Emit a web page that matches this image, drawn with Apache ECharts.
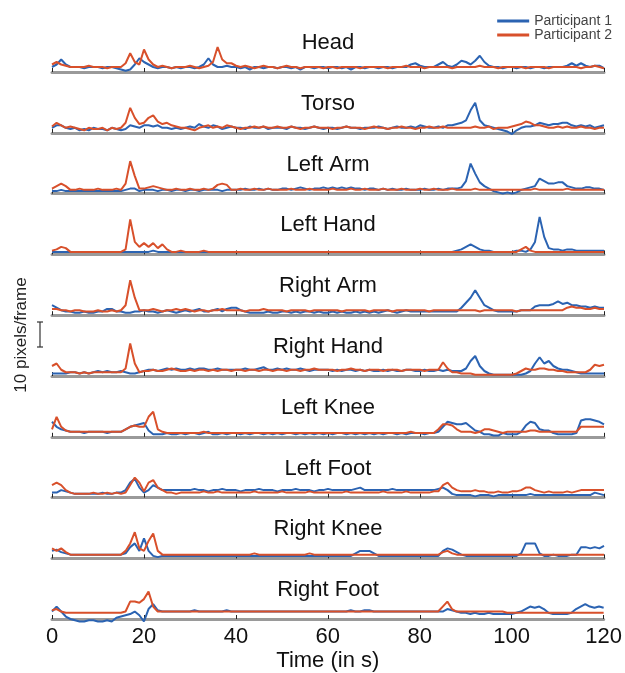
<!DOCTYPE html>
<html>
<head>
<meta charset="utf-8">
<script src="https://cdn.jsdelivr.net/npm/echarts@6/dist/echarts.min.js"></script>
<style>
  html, body { margin: 0; padding: 0; background: #fff; }
  #chart { width: 625px; height: 673px; }
</style>
</head>
<body>
<div id="chart"></div>
<script>
// time in seconds, one sample per second
const times = []
for (let i = 0; i <= 120; i++) times.push(i)
const xTicks = [0, 20, 40, 60, 80, 100, 120]
const panelNames = ['Head', 'Torso', 'Left Arm', 'Left Hand', 'Right Arm', 'Right Hand', 'Left Knee', 'Left Foot', 'Right Knee', 'Right Foot']
const seriesNames = ['Participant 1', 'Participant 2']

// speed in pixels/frame
const headP1 = [2,3,5,3,2,2,2,1.5,2,2, 2,1.5,2,2,1.5,1,0.5,1,3,5.5, 4,3,2,1.5,2,2,1.5,2,1.5,2, 2,1.5,2,3,5.5,3,2,2,2.5,2,
  2,1.5,2,1,2,2,1.5,2,2,1.5, 2,2,1.5,2,1,2,2,1.5,2,2, 1.5,2,2,1.5,2,1,2,2,1.5,2, 2,1.5,2,2,1.5,2,2,2,3,3.5,
  2.5,2,2,2,3,4,2.5,2,3,4.5, 4,3,4.5,6.5,4,2.5,2,2,1.5,2, 2,1.5,2,2,1.5,2,2,1.5,2,2, 2,2,2.5,3.5,2.5,3.5,2.5,2,2.5,2.5, 1.5]
const headP2 = [3,4,3,2.5,2,2,2,2,2.5,2, 2,2,1.5,2,2,2,3.5,7.5,4,3, 9,5,3,2,2.5,2,1.5,2,2,2, 2.5,2,1.5,2,2.5,4,10,5,3.5,3.5,
  2.5,2,2.5,2,1.5,2,2.5,2,2,1.5, 2,2.5,2,2,1.5,2,2,2,2,1.5, 2,2,1.5,2,2,2,2,1.5,2,2, 2,2,2,1.5,2,2,2,2.5,2,2,
  2,1.5,2,2,2,2,2,1.5,2,2, 2,2,2,2.5,2,2,2,1.5,2,2, 2,2,2,1.5,2,2,2,2,1.5,2, 2,2,2,2,2,1.5,2,2,2.5,2, 1.5]
const torsoP1 = [2,3,3,2,1.5,2,1,1.5,1,2, 1.5,1.5,1,2,1.5,1,1.5,3,2.5,2, 3,3,2.5,3,2,2,1.5,2,1.5,2, 2.5,2,3.5,2.5,2,3,2.5,1.5,2,2.5,
  2,2,1.5,2.5,2,2,2.5,1.5,2,2, 2,1.5,2.5,2,2,1.5,2,2.5,2,1.5, 2,2,1.5,2,2.5,2,2,1.5,2,2, 2,2.5,2,1.5,2,2.5,2,2,2.5,2,
  3,2.5,2,2,2.5,2,3,3,3.5,4, 5,9,12,5,3,2.5,2,1.5,1,0.5, -0.5,1,2,2.5,2.5,3,4,3.5,3,3.5, 3.5,4,4,3,2.5,3,2.5,3,2,2.5, 3]
const torsoP2 = [2.5,4,3,2,2.5,2,1.5,1,2,1.5, 1.5,2,1,2,1.5,2,4,10,6,3.5, 4,6,7,4.5,3.5,4,3,2.5,2,2, 1.5,1,2,2.5,3,2,2.5,2,3,2.5,
  2,1.5,2,2,2.5,2,2.5,2,2,2.5, 2,2,2.5,2,1.5,2,2,2.5,2,2, 2,1.5,2,2,2.5,2,2,2,1.5,2, 2.5,2,2,1.5,2,2,2.5,2,2,1.5,
  2,2,2.5,2,2,2.5,2,2,2,2, 2,2,2.5,2,2,2.5,1.5,2,2,2, 2.5,3,3.5,4.5,4,3,3,2.5,2,2, 2.5,2,2.5,2,2,2.5,2,2,1.5,2, 2]
const leftArmP1 = [1,1,1.5,1,1,1,1,1,1,1, 1,1,1,1,1,1,1.5,2,2,1, 1.5,1.5,1.5,1,1.5,1.5,1,1.5,1.5,1, 1.5,1.5,1,1.5,1.5,1.5,1.5,1,1.5,1.5,
  1.5,1.5,2,1.5,1.5,2,1.5,2,1.5,1.5, 2,2,1.5,2,2.5,2,1.5,2,2,2.5, 2,2.5,2,2.5,2,2.5,2,2,1.5,2, 2,1.5,2,1.5,2,1.5,1.5,2,1.5,1.5,
  1.5,2,1.5,1.5,2,1.5,2,2,2,2.5, 5,12,8,4.5,3,2,1,0.5,0,0.5, 0,0.5,1.5,2,2.5,3,6,5,4,4, 4.5,4.5,3,2.5,2,2,2.5,2.5,2,2, 1.5]
const leftArmP2 = [2,3,4,3,1.5,1.5,2,1.5,1.5,1.5, 2,1.5,1.5,1.5,2,1.5,4,13,7,2, 2,2.5,3,2.5,2,1.5,1.5,2,1.5,1.5, 2,1.5,1.5,2,1.5,2,3.5,4,3.5,1.5,
  1.5,2,1.5,1.5,2,1.5,1.5,2,1.5,1.5, 1.5,1.5,2,1.5,1.5,1.5,2,1.5,1.5,1.5, 1.5,2,1.5,1.5,1.5,2,1.5,1.5,2,1.5, 1.5,1.5,2,1.5,1.5,1.5,2,1.5,1.5,1.5,
  2,1.5,1.5,2,1.5,1.5,1.5,2,1.5,1.5, 1.5,1.5,2,1.5,1.5,1.5,1.5,1.5,1.5,1.5, 1.5,1.5,1.5,1.5,1.5,2,1.5,1.5,1.5,1.5, 1.5,1.5,2,1.5,1.5,1.5,1.5,1.5,1.5,1.5, 1.5]
const leftHandP1 = [1,1,1,1,1,1,1,1,1,1, 1,1,1,1,1,1,1,1,1,1, 1,1,1.5,1,1,1,1,1,1,1, 1,1,1,1,1,1,1,1,1,1,
  1,1,1,1,1,1,1,1,1,1, 1,1,1,1,1,1,1,1,1,1, 1,1,1,1,1,1,1,1,1,1, 1,1,1,1,1,1,1,1,1,1,
  1,1,1,1,1,1,1,1,1.5,2, 3,4,3,2,1.5,1.5,1,1,1,1, 1,1.5,1.5,1,2,5,15,7,2.5,2, 2,1.5,2,2,1.5,1.5,1.5,1.5,1.5,1.5, 1.5]
const leftHandP2 = [1.5,2,3,2.5,1,1,1,1,1,1, 1,1,1,1,1,1,2,14,5,3, 4.5,3,4.5,2.5,4,2,1,1,1.5,1, 1,1,1,1.5,1,1,1,1,1,1,
  1,1,1,1,1,1,1,1,1,1, 1,1,1,1,1,1,1,1,1,1, 1,1,1,1,1,1,1,1,1,1, 1,1,1,1,1,1,1,1,1,1,
  1,1,1,1,1,1,1,1,1,1, 1,1,1,1,1,1,1,1,1,1, 1,1,2,3,1.5,1,1,1,1,1, 1,1,1,1,1,1,1,1,1,1, 1]
const rightArmP1 = [4,3,2,1.5,1.5,1,1,1.5,1,1, 1.5,1.5,2.5,2.5,1.5,1.5,1,1,1.5,1.5, 2,1.5,1.5,1,1.5,2,1.5,1,1.5,2, 1.5,2,2.5,1.5,1.5,2,2.5,1.5,2.5,3,
  3,2,1.5,1,1,1,1,1.5,1,1, 1.5,1.5,1,1.5,1,1.5,1.5,1,1.5,1, 1,1.5,1,1.5,1,1,1.5,1,1.5,1, 1.5,1,1.5,2,1.5,1,1.5,2,1.5,1.5,
  1.5,1.5,1.5,1.5,1.5,1.5,1.5,1.5,1.5,3, 5,7,10,7,4,3,2,1.5,1.5,1.5, 1.5,1.5,2,2,2,3.5,4,4,4,4.5, 5.5,4.5,5,4,4,3.5,3.5,3,3.5,3, 3]
const rightArmP2 = [2.5,2.5,2,2,1.5,2,2,1.5,1.5,1.5, 2,1.5,1.5,2,1.5,2,4,14,7,2, 2,2,2.5,2,1.5,2,2,2.5,2,2.5, 2,1.5,2,2,1.5,2,2,2.5,2,2,
  2,2,1.5,2,2,2,2.5,2,2,2, 2,1.5,2,2,2,2,1.5,2,2,2, 2,2,2,1.5,2,2,2,2,2,1.5, 2,2,2,2,1.5,2,2,2,2,2,
  2,2,1.5,2,2,2,2,2,2,2, 2,2,2,1.5,2,2,2,2,2,2, 2,1.5,2,2,2,2,2,2,2,2, 2,2,3,3.5,3,3,2.5,2.5,3,2.5, 2.5]
const rightHandP1 = [1,1,1,1,1.5,1.5,1,1.5,1,1.5, 2,1.5,2,1.5,1.5,2,1.5,1,1,1.5, 2,2.5,2.5,2,2.5,3,2.5,3,2.5,2.5, 3,2.5,3,3,2.5,2.5,3,2.5,2.5,2.5,
  2.5,2.5,3,2.5,2.5,3,3.5,2.5,2.5,3, 2.5,3,2.5,2.5,3,2.5,2,2.5,2.5,2.5, 2.5,2,2.5,2,2.5,2.5,2,2.5,2,2.5, 2,2,2.5,2,2.5,2,2,2.5,2.5,2,
  2,2.5,2,2,2.5,2,2.5,2,2,2, 3,6,8,4,2,1,0.5,0.5,0.5,0.5, 0.5,0.5,0.5,1,2,5,7.5,5,6,4, 3,2.5,2.5,2,1.5,1,1,1,1,1, 1]
const rightHandP2 = [4,5,2.5,1.5,1.5,1.5,1,1.5,1,1.5, 1.5,1.5,1.5,1.5,1.5,1.5,3,13,5,1.5, 2,2,2.5,2,2,2.5,3,2.5,2,2, 2.5,2,2.5,2.5,2,2.5,2,2.5,2.5,2,
  2.5,2.5,2,2.5,2.5,2,2.5,2.5,2,2.5, 2.5,2,2.5,2.5,2,2.5,2.5,3,2.5,2.5, 2.5,2.5,2,2.5,2.5,3,2.5,2.5,2,2.5, 2.5,2.5,2,2.5,2.5,2.5,2,2.5,2.5,2.5,
  2.5,2,2.5,2.5,2.5,5.5,3,1.5,1.5,1, 1,1,0.5,0.5,0.5,0.5,0.5,0.5,0.5,0.5, 0.5,1,2,3,2.5,2.5,3,3,2.5,2.5, 2,2,1.5,1.5,1.5,1.5,1.5,2.5,4.5,4, 4.5]
const leftKneeP1 = [6,4,3,2.5,2,2,2,1.5,2,2, 2,2,1.5,2,2,2,3,4,4.5,5, 5.5,2.5,1,1,1,1.5,1,1,1.5,1, 1.5,1.5,1,1.5,2,1,1,1.5,1,1.5,
  1.5,1,1.5,1,1.5,1.5,1,1.5,1,1.5, 1,1.5,1.5,1,1.5,1,1.5,1,1.5,1, 1.5,1,1.5,1.5,1,1.5,1,1.5,1,1.5, 1,1.5,1,1.5,1.5,1,1.5,1,1.5,1.5,
  1.5,1,1.5,1.5,2,4,6,5.5,5,5, 5.5,4,2.5,2,1,1,0.5,0.5,1.5,1, 1,1,2,4.5,6,5.5,3,2.5,2.5,1.5, 1,1,1,1,1.5,6.5,7,7,6.5,6, 5]
const leftKneeP2 = [3,8,4,2.5,2,2,2,2,2,2, 2,2,2,2,2,2,3,4,4.5,4, 4,8,10,3,2,1.5,1.5,1.5,1.5,1.5, 1.5,1.5,1.5,2,1.5,1.5,1.5,1.5,1.5,1.5,
  1.5,1.5,1.5,1.5,1.5,1.5,1.5,1.5,1.5,1.5, 1.5,1.5,1.5,1.5,1.5,1.5,1.5,1.5,1.5,1.5, 1.5,1.5,1.5,1.5,1.5,1.5,1.5,1.5,1.5,1.5, 1.5,1.5,1.5,1.5,1.5,1.5,1.5,1.5,2,1.5,
  1.5,1.5,1.5,1.5,3,5,5,4.5,3,2, 2,2,1.5,2,3,3,2.5,2,1.5,2, 2,2,2,2,2.5,2.5,2,2,2,2, 2,2,2,2,2,4,4,4,4,4, 4]
const leftFootP1 = [2,2,3,2.5,2,1.5,1.5,1.5,1.5,1.5, 1.5,2,1.5,1.5,2,2,3,6,7.5,4, 2,3,5,4,3,3,3,3,3,3, 3,3.5,3,3,2.5,3,3,3.5,3,3,
  3,2.5,3,3,3,3.5,3,3,3,2.5, 3,3,3,3.5,3,3,3,2.5,3,3, 3.5,3,3,3,3,3,3.5,4,3,3, 3,3,3,3,3.5,3,3,3,3,3,
  3,3,3,3,3.5,4,3,1.5,1,1, 1,1,0.5,1,1,1,0.5,1,1,1, 1,1,1,1,1.5,1,1,1,1,1, 1,1,1,1,1,1,1,1,2,1.5, 1]
const leftFootP2 = [5,6,5,3,2,1.5,1.5,1.5,1.5,2, 1.5,1.5,2,1.5,2,1.5,2,5,8,6, 2.5,6,7,4,3,2,2,1.5,2,2, 2,2,2,2.5,2,2,2.5,2,2,2,
  2,2,2,2,2.5,2,2,2,2,2, 2.5,2,2,2,2,2,2.5,2,2,2, 2,2,2,2,2.5,2,2,2,2,2, 2,2,2.5,2,2,2,2,2.5,2,2,
  2,2,2,2.5,2.5,5,6,4,3,2.5, 2.5,2.5,3,2.5,2.5,2,2,2.5,2,2, 2.5,2.5,3,4,4,3,2.5,2,2.5,2, 2,2,2.5,2,2.5,3,3,3,3,3, 3]
const rightKneeP1 = [3,3.5,2.5,2,1.5,1.5,1.5,1.5,1.5,1.5, 1.5,1.5,1.5,1.5,1.5,1.5,2,4.5,6,3, 8,3,1,0.5,1,1,1,1,1,1, 1,1,1,1,1,1,1,1,1,1,
  1,1,1,1,1,1,1,1,1,1, 1,1,1,1,1,1,1,1,1,1, 1,1,1,1,1,1,2,3,3,3, 2,1,1,1,1,1,1,1,1,1,
  1,1,1,1,1,3,4,3.5,2.5,1.5, 1,1,1,1,1,1,1,1,1,1, 1,1,2,6,6,6,2,1,1,1.5, 1,1,1,1.5,1.5,4.5,4.5,4,4.5,4, 5]
const rightKneeP2 = [4,3,4,2.5,1.5,1.5,1.5,1.5,1.5,1.5, 1.5,1.5,1.5,1.5,1.5,1.5,3,6,10.5,4, 3,7,10,3,1.5,1.5,1.5,1.5,1.5,1.5, 1.5,1.5,1.5,1.5,1.5,1.5,1.5,1.5,1.5,1.5,
  1.5,1.5,1.5,1.5,2,1.5,1.5,1.5,1.5,1.5, 1.5,1.5,1.5,1.5,1.5,1.5,2,1.5,1.5,1.5, 1.5,1.5,1.5,1.5,1.5,1.5,1.5,1.5,1.5,1.5, 1.5,1.5,1.5,1.5,1.5,1.5,1.5,1.5,1.5,1.5,
  1.5,1.5,1.5,1.5,1.5,2.5,3,2,1.5,1.5, 1.5,1.5,1.5,1.5,1.5,1.5,1.5,1.5,1.5,1.5, 1.5,1.5,1.5,1.5,1.5,1.5,1.5,1.5,1.5,1.5, 1.5,1.5,1.5,1.5,1.5,1.5,1.5,1.5,1.5,1.5, 1.5]
const rightFootP1 = [3,5,3,1,0,-0.5,-1,-1,-0.5,-0.5, -1,-1,-0.5,-1,0.5,1,1.5,2,3,1.5, -1,4,6,3.5,3,3,3,3,3,3, 3,3.5,3,3,3,3,3,3,3.5,3,
  3,3,3,3,3,3,3,3,3,3, 3,3,3,3,3,3,3,3,3,3, 3,3,3,3,3,3.5,3,3,3.5,3.5, 3,3,3,3,3,3,3,3,3,3,
  3,3,3,3,3,3,4,3.5,3,2.5, 2.5,2,2.5,2,2,2.5,2,2,2,2, 2,2.5,3,4,5,4.5,5,4,2.5,2, 2,2,2,2.5,4,5,6,5,4.5,5, 4.5]
const rightFootP2 = [3.5,4,3,2.5,2.5,2.5,2.5,2.5,2.5,2.5, 2.5,2.5,2.5,2.5,2.5,2.5,3,7,7,6.5, 8,11,5,3,3,3,3,3,3,3, 3,3,3,3,3,3,3,3,3,3,
  3,3,3,3,3,3,3,3,3,3, 3,3,3,3,3,3,3,3,3,3, 3,3,3,3,3,3,3,3,3,3, 3,3,3,3,3,3,3,3,3,3,
  3,3,3,3,3,5,7,4,3,3, 3,3,3,3,3,3,3,3,3,2.5, 2.5,2.5,2.5,2.5,2.5,2.5,2.5,2.5,2.5,2.5, 2.5,2.5,2.5,2.5,2.5,2.5,2.5,2.5,2.5,2.5, 2.5]

const panelData = [
  [headP1, headP2], [torsoP1, torsoP2], [leftArmP1, leftArmP2], [leftHandP1, leftHandP2],
  [rightArmP1, rightArmP2], [rightHandP1, rightHandP2], [leftKneeP1, leftKneeP2],
  [leftFootP1, leftFootP2], [rightKneeP1, rightKneeP2], [rightFootP1, rightFootP2]
]

const colors = ['#2b63b2', '#d8502b']
const font = 'Liberation Sans, Arial, sans-serif'
const chart = echarts.init(document.getElementById('chart'))

// layout of the stacked panels
const plotLeft = 52
const plotWidth = 552
const firstTop = 32
const step = 60.8
const panelHeight = 40

const grids = []
const xAxes = []
const yAxes = []
const titles = []
const series = []
panelNames.forEach((name, i) => {
  const last = i === panelNames.length - 1
  grids.push({ left: plotLeft, width: plotWidth, top: firstTop + i * step, height: panelHeight })
  xAxes.push({
    type: 'value',
    gridIndex: i,
    min: xTicks[0],
    max: xTicks[xTicks.length - 1],
    interval: xTicks[1] - xTicks[0],
    splitLine: { show: false },
    axisLine: { onZero: false, lineStyle: { color: '#9a9a9a', width: 3 } },
    axisTick: { inside: true, length: 4, lineStyle: { color: '#222', width: 1 } },
    axisLabel: { show: last, fontSize: 22, color: '#111', margin: 7, fontFamily: font },
    name: last ? 'Time (in s)' : '',
    nameLocation: 'middle',
    nameGap: 31,
    nameTextStyle: { fontSize: 22, color: '#111', fontFamily: font }
  })
  yAxes.push({ type: 'value', gridIndex: i, min: 0, max: 16, show: false })
  titles.push({
    text: name,
    left: plotLeft + plotWidth / 2,
    textAlign: 'center',
    top: firstTop + i * step,
    padding: 0,
    textStyle: { fontSize: 22, fontWeight: 'normal', color: '#111', fontFamily: font }
  })
  panelData[i].forEach((vals, k) => {
    series.push({
      name: seriesNames[k],
      type: 'line',
      xAxisIndex: i,
      yAxisIndex: i,
      data: vals.map((v, j) => [times[j], v]),
      symbol: 'none',
      clip: false,
      lineStyle: { width: 2, color: colors[k] },
      itemStyle: { color: colors[k] },
      z: 2 + k
    })
  })
})

const option = {
  backgroundColor: '#fff',
  animation: false,
  title: titles,
  legend: {
    data: seriesNames.map(n => ({ name: n, icon: 'rect' })),
    orient: 'vertical',
    right: 13,
    top: 14,
    itemWidth: 32,
    itemHeight: 3,
    itemGap: 0,
    padding: 0,
    textStyle: { fontSize: 14, lineHeight: 13, color: '#444', fontFamily: font }
  },
  grid: grids,
  xAxis: xAxes,
  yAxis: yAxes,
  series: series
}
chart.setOption(option)

// scale bar: 10 pixels/frame measured on the Right Hand panel scale
const p0 = chart.convertToPixel({ gridIndex: 5 }, [0, 0])
const p10 = chart.convertToPixel({ gridIndex: 5 }, [0, 10])
const barLen = p0[1] - p10[1]
const barX = 40
const barTop = 322
chart.setOption({
  graphic: [
    { type: 'line', shape: { x1: barX, y1: barTop, x2: barX, y2: barTop + barLen }, style: { stroke: '#333', lineWidth: 1.2 } },
    { type: 'line', shape: { x1: barX - 3, y1: barTop, x2: barX + 3, y2: barTop }, style: { stroke: '#333', lineWidth: 1.2 } },
    { type: 'line', shape: { x1: barX - 3, y1: barTop + barLen, x2: barX + 3, y2: barTop + barLen }, style: { stroke: '#333', lineWidth: 1.2 } },
    {
      type: 'text', x: 21, y: 335, rotation: Math.PI / 2,
      style: { text: '10 pixels/frame', fontSize: 17, fill: '#222', fontFamily: font, align: 'center', verticalAlign: 'middle' }
    }
  ]
})
</script>
</body>
</html>
